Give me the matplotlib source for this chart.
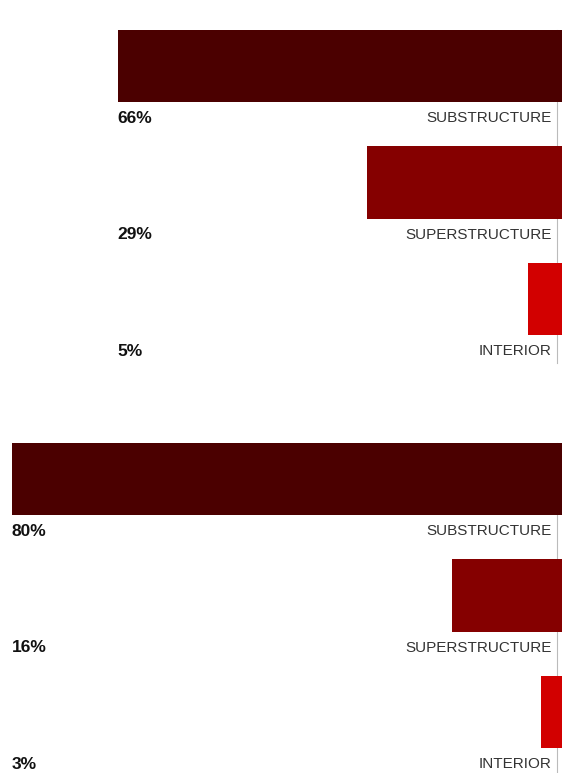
import matplotlib
matplotlib.use('Agg')
import matplotlib.pyplot as plt
from matplotlib import rcParams

rcParams['font.family'] = ['Liberation Sans', 'DejaVu Sans']

# 两组数据：每组三个类别
categories = ['SUBSTRUCTURE', 'SUPERSTRUCTURE', 'INTERIOR']
top_values = [66, 29, 5]
bottom_values = [80, 16, 3]
colors = ['#4b0000', '#850000', '#d20000']


def draw_group(ax, values, xmax):
    pos = range(len(values))
    ax.barh(pos, values, height=0.62, color=colors, left=0, zorder=3)
    ax.set_xlim(xmax, 0)  # 反向，条形从右边长出
    ax.set_ylim(2.55, -0.31)
    left_edge = max(values)
    for i, (v, name) in enumerate(zip(values, categories)):
        ax.text(left_edge, i + 0.45, f'{v}%', ha='left', va='center',
                fontsize=12.5, fontweight='bold', color='#111111')
        ax.text(0.982, i + 0.45, name, ha='right', va='center',
                fontsize=11, color='#333333',
                transform=ax.get_yaxis_transform())
    # 右侧细灰线，放在条形后面
    ax.plot([0.991, 0.991], [0, 1], transform=ax.transAxes,
            color='#bbbbbb', lw=0.8, clip_on=False, zorder=1)
    ax.axis('off')


fig = plt.figure(figsize=(5.62, 7.73), dpi=100)
ax1 = fig.add_axes([0, 1 - 363 / 773, 1, 333 / 773])
ax2 = fig.add_axes([0, 1 - 776 / 773, 1, 333 / 773])
draw_group(ax1, top_values, 83.5)
draw_group(ax2, bottom_values, 81.7)

plt.savefig('out.png', dpi=100)
plt.close()
